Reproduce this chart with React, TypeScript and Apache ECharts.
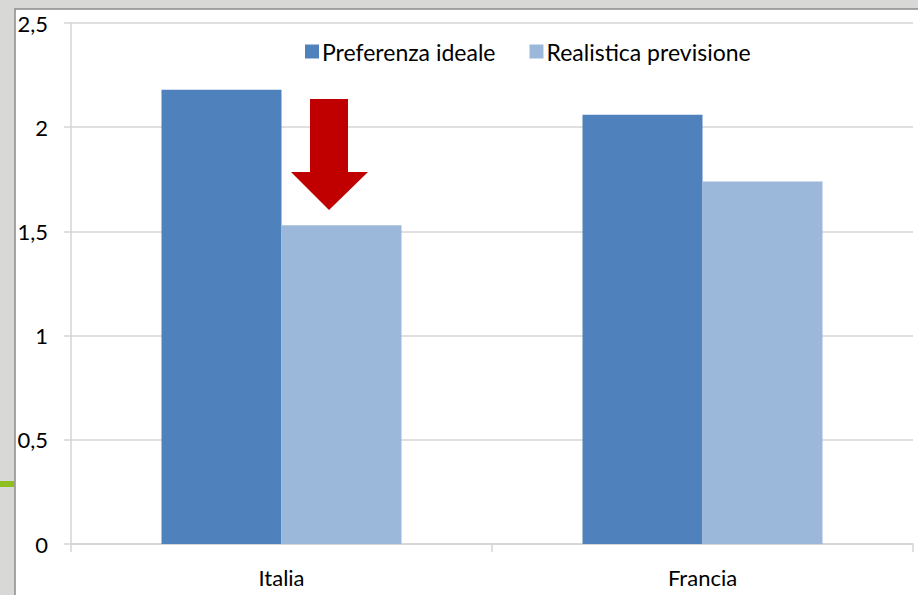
import React, { useEffect, useRef } from "react";
import * as echarts from "echarts";

const categories = ["Italia", "Francia"];
const seriesNames = ["Preferenza ideale", "Realistica previsione"];
const idealValues = [2.18, 2.06];
const realisticValues = [1.53, 1.74];
const yTicks = [0, 0.5, 1, 1.5, 2, 2.5];

const FONT = "Lato";

export default function App() {
  const ref = useRef<HTMLDivElement>(null);
  useEffect(() => {
    document.body.style.margin = "0";
    const chart = echarts.init(ref.current!, null, { renderer: "svg" });
    chart.setOption({
      animation: false,
      backgroundColor: "transparent",
      textStyle: { fontFamily: FONT },
      graphic: [
        {
          type: "rect",
          z: -10,
          shape: { x: 15, y: 9, width: 910, height: 600 },
          style: { fill: "#ffffff", stroke: "#8a8a8a", lineWidth: 1.5 },
          silent: true,
        },
        {
          type: "rect",
          z: -10,
          shape: { x: 0, y: 481, width: 14, height: 6 },
          style: { fill: "#8dbf1e" },
          silent: true,
        },
        {
          type: "polygon",
          z: 20,
          shape: {
            points: [
              [310, 99],
              [348, 99],
              [348, 172],
              [368, 172],
              [329, 210],
              [291, 172],
              [310, 172],
            ],
          },
          style: { fill: "#c00000" },
          silent: true,
        },
      ],
      legend: {
        top: 35,
        left: 300,
        itemWidth: 14,
        itemHeight: 14,
        itemGap: 34,
        icon: "rect",
        textStyle: { fontSize: 23, color: "#000", fontFamily: FONT, padding: [0, 0, 0, -2] },
        data: seriesNames,
      },
      grid: { left: 71, right: 5, top: 23, bottom: 51 },
      xAxis: {
        type: "category",
        data: categories,
        axisLine: { lineStyle: { color: "#d4d4d4", width: 1.5 } },
        axisTick: { show: true, length: 8, lineStyle: { color: "#d4d4d4", width: 1.5 } },
        axisLabel: { fontSize: 22, color: "#000", margin: 22, fontFamily: FONT },
      },
      yAxis: {
        type: "value",
        min: yTicks[0],
        max: yTicks[yTicks.length - 1],
        interval: 0.5,
        axisLine: { show: true, lineStyle: { color: "#d4d4d4", width: 1.5 } },
        axisTick: { show: true, length: 7, lineStyle: { color: "#d4d4d4", width: 1.5 } },
        splitLine: { lineStyle: { color: "#d4d4d4", width: 1.5 } },
        axisLabel: {
          fontSize: 22,
          color: "#000",
          margin: 23,
          fontFamily: FONT,
          formatter: (v: number) => String(v).replace(".", ","),
        },
      },
      series: [
        {
          name: seriesNames[0],
          type: "bar",
          data: idealValues,
          barWidth: 120,
          barGap: "0%",
          itemStyle: { color: "#4f81bd" },
        },
        {
          name: seriesNames[1],
          type: "bar",
          data: realisticValues,
          barWidth: 120,
          barGap: "0%",
          itemStyle: { color: "#9bb8db" },
        },
      ],
    });
    return () => chart.dispose();
  }, []);
  return (
    <div
      style={{
        position: "fixed",
        left: 0,
        top: 0,
        width: 918,
        height: 595,
        background: "#d8d8d6",
      }}
    >
      <div ref={ref} style={{ width: 918, height: 595 }} />
    </div>
  );
}
